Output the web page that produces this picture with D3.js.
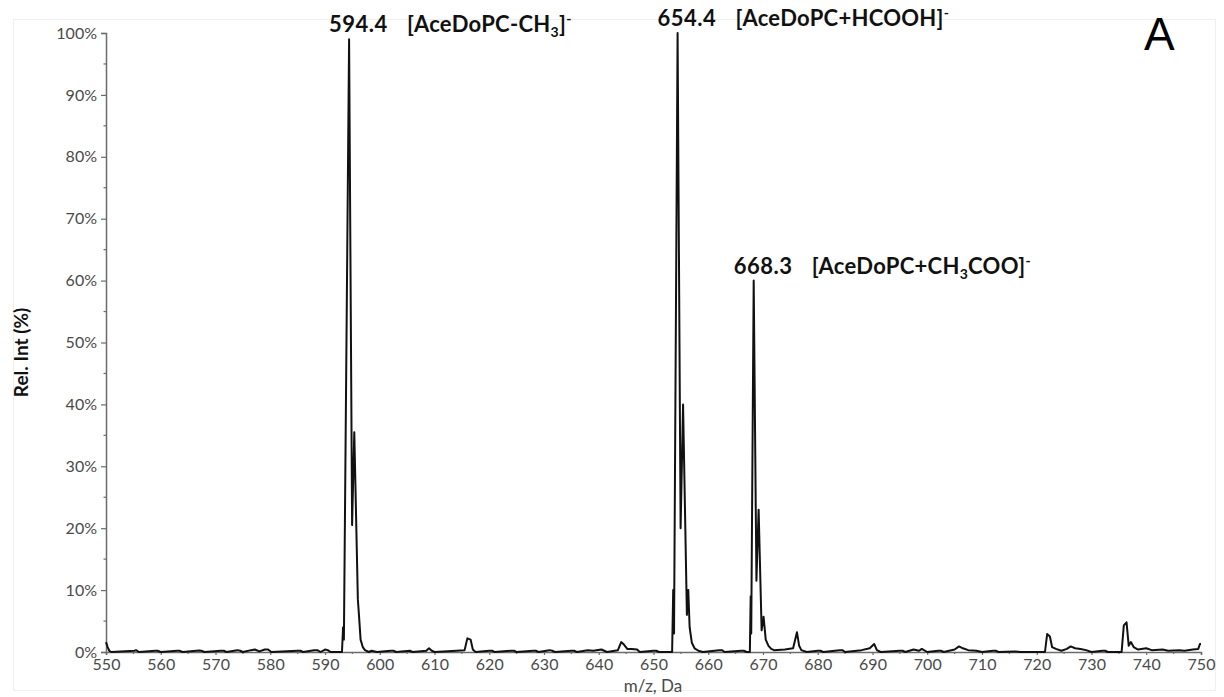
<!DOCTYPE html>
<html>
<head>
<meta charset="utf-8">
<script src="https://cdn.jsdelivr.net/npm/d3@7"></script>
<style>
    body { margin: 0; background: #fff; }
    svg { display: block; }
</style>
</head>
<body>
<svg id="chart"></svg>
<script>
const width = 1224;
const height = 697;
const margin = { top: 33, right: 23, bottom: 45, left: 106 };

// spectrum (m/z, relative intensity %)
const mzValues = [
    550.0, 550.3, 550.6, 551.0, 555.2, 555.5, 556.0, 559.0, 559.4, 560.0, 563.0, 563.4, 564.0,
    567.0, 567.4, 568.0, 571.0, 571.5, 572.0, 574.0, 574.5, 575.0, 576.5, 577.2, 578.0, 579.0,
    579.6, 580.2, 585.0, 585.5, 586.0, 588.0, 588.6, 589.2, 590.0, 590.5, 591.0, 593.1, 593.3,
    593.45, 594.4, 594.95, 595.35, 596.0, 596.2, 596.5, 596.9, 597.3, 598.0, 598.5, 599.5,
    602.0, 602.5, 603.0, 605.5, 606.0, 608.5, 609.0, 609.5, 610.0, 614.0, 615.5, 616.0, 616.6,
    617.0, 617.5, 620.0, 620.5, 621.0, 624.0, 624.5, 625.0, 628.0, 628.5, 629.0, 631.0, 631.5,
    632.0, 635.0, 635.5, 636.0, 638.0, 639.0, 640.5, 641.5, 643.5, 644.1, 644.6, 645.2, 646.0,
    647.0, 647.5, 650.0, 650.5, 651.0, 653.4, 653.6, 653.75, 654.4, 654.95, 655.4, 656.1,
    656.35, 656.6, 657.0, 657.5, 658.2, 659.0, 662.0, 662.5, 663.0, 666.0, 666.5, 667.0, 667.6,
    667.75, 667.85, 668.3, 668.8, 669.2, 669.75, 670.1, 670.5, 671.0, 671.5, 672.0, 674.0,
    675.5, 676.2, 676.6, 677.0, 678.0, 680.0, 680.5, 681.0, 684.0, 684.5, 685.0, 688.0, 689.5,
    690.3, 690.8, 691.5, 695.0, 695.5, 696.0, 697.5, 698.5, 699.0, 700.0, 702.0, 702.5, 703.0,
    705.0, 705.8, 706.5, 707.5, 709.0, 710.0, 712.0, 712.5, 713.0, 716.0, 717.0, 721.5, 721.9,
    722.4, 722.8, 723.5, 724.5, 725.5, 726.2, 727.0, 728.0, 729.0, 730.0, 732.0, 732.5, 733.0,
    735.5, 735.9, 736.4, 736.8, 737.2, 737.7, 738.5, 740.0, 741.0, 743.0, 744.0, 746.0, 747.0,
    748.5, 749.5, 749.8, 750.0
];
const relIntValues = [
    1.6, 0.8, 0.2, 0, 0.2, 0.3, 0, 0.2, 0.2, 0, 0.2, 0.2, 0,
    0.25, 0.2, 0, 0.2, 0.2, 0, 0.3, 0.2, 0, 0.3, 0.4, 0.1, 0.4,
    0.4, 0, 0.2, 0.2, 0, 0.3, 0.3, 0, 0.4, 0.3, 0, 0, 4,
    2, 99, 20.5, 35.5, 8.5, 6, 2, 0.8, 0.3, 0, 0.2, 0,
    0.2, 0.2, 0, 0.2, 0, 0.2, 0.6, 0.2, 0, 0.2, 0.3, 2.2, 2.0,
    0.4, 0, 0.2, 0.2, 0, 0.2, 0.2, 0, 0.2, 0.2, 0, 0.3, 0.2,
    0, 0.2, 0.2, 0, 0.3, 0.2, 0.4, 0, 0.3, 1.6, 1.2, 0.5, 0.5,
    0.4, 0, 0.2, 0.2, 0, 0, 10, 3, 100, 20, 40, 6,
    10, 4, 1.5, 0.6, 0.2, 0, 0.3, 0.3, 0, 0.2, 0.2, 0, 0,
    9, 3, 60, 11.5, 23, 3.5, 5.7, 2, 1, 0.5, 0.3, 0.4,
    0.6, 3.2, 1, 0.3, 0, 0.2, 0.2, 0, 0.3, 0.3, 0, 0.3, 0.6,
    1.3, 0.3, 0, 0.2, 0.2, 0, 0.4, 0.2, 0.5, 0, 0.2, 0.2, 0,
    0.4, 0.9, 0.6, 0.3, 0.2, 0, 0.2, 0.2, 0, 0.1, 0, 0, 2.9,
    2.5, 0.8, 0.5, 0.2, 0.5, 0.9, 0.6, 0.5, 0.3, 0, 0.2, 0.2, 0,
    0, 4.3, 4.8, 1.0, 1.6, 0.8, 0.4, 0.6, 0.3, 0.4, 0.2, 0.3, 0.2,
    0.4, 0.5, 1.3, 1.3
];

const xTicks = [550, 560, 570, 580, 590, 600, 610, 620, 630, 640, 650, 660, 670, 680, 690, 700, 710, 720, 730, 740, 750];
const yTicks = [0, 10, 20, 30, 40, 50, 60, 70, 80, 90, 100];

// peak annotations
const peakMz = [594.4, 654.4, 668.3];
const peakText = ["594.4", "654.4", "668.3"];
const ionText = [
    [["[AceDoPC-CH", ""], ["3", "sub"], ["]", ""], ["-", "sup"]],
    [["[AceDoPC+HCOOH]", ""], ["-", "sup"]],
    [["[AceDoPC+CH", ""], ["3", "sub"], ["COO]", ""], ["-", "sup"]],
];

const svg = d3.select("#chart").attr("width", width).attr("height", height);

// faint frame of the original figure
svg.append("rect")
    .attr("x", 13.5).attr("y", 19.5)
    .attr("width", 1202).attr("height", 671)
    .attr("fill", "none")
    .attr("stroke", "#efefef");

const x = d3.scaleLinear().domain([550, 750]).range([margin.left, width - margin.right]);
const y = d3.scaleLinear().domain([0, 100]).range([height - margin.bottom, margin.top]);

const tickFont = "Lato, 'Noto Sans', sans-serif";
const axisColor = "#6b6b6b";
const tickColor = "#4a4a4a";

// y axis
const yAxis = svg.append("g")
    .attr("transform", `translate(${margin.left},0)`)
    .call(d3.axisLeft(y).tickValues(yTicks).tickFormat((d) => d + "%").tickSize(5).tickPadding(4));
yAxis.selectAll(".domain").attr("stroke", axisColor).attr("stroke-width", 1.5);
yAxis.selectAll(".tick line").attr("stroke", axisColor).attr("stroke-width", 1.2);
yAxis.selectAll("text")
    .attr("font-family", tickFont).attr("font-size", 16).attr("fill", tickColor);

svg.append("g")
    .selectAll("line")
    .data(d3.range(5, 100, 10))
    .join("line")
    .attr("x1", margin.left - 2.5).attr("x2", margin.left)
    .attr("y1", (d) => y(d)).attr("y2", (d) => y(d))
    .attr("stroke", axisColor).attr("stroke-width", 1.2);

// x axis
const xAxis = svg.append("g")
    .attr("transform", `translate(0,${y(0)})`)
    .call(d3.axisBottom(x).tickValues(xTicks).tickSize(3).tickPadding(4));
xAxis.selectAll(".domain").attr("stroke", axisColor).attr("stroke-width", 1.5);
xAxis.selectAll(".tick line").attr("stroke", axisColor).attr("stroke-width", 1.2);
xAxis.selectAll("text")
    .attr("font-family", tickFont).attr("font-size", 16).attr("fill", tickColor);

svg.append("g")
    .selectAll("line")
    .data(d3.range(555, 750, 10))
    .join("line")
    .attr("x1", (d) => x(d)).attr("x2", (d) => x(d))
    .attr("y1", y(0)).attr("y2", y(0) + 2)
    .attr("stroke", axisColor).attr("stroke-width", 1.2);

// axis titles
svg.append("text")
    .attr("x", 653)
    .attr("y", 692)
    .attr("text-anchor", "middle")
    .attr("font-family", tickFont).attr("font-size", 17).attr("fill", tickColor)
    .text("m/z, Da");

svg.append("text")
    .attr("transform", `translate(28,${(y(0) + y(100)) / 2 + 10}) rotate(-90)`)
    .attr("text-anchor", "middle")
    .attr("font-family", "Lato, sans-serif").attr("font-weight", "bold").attr("font-size", 19)
    .attr("fill", "#111")
    .text("Rel. Int (%)");

// spectrum trace
const spectrum = mzValues.map((m, i) => ({ mz: m, val: relIntValues[i] }));
const line = d3.line().x((d) => x(d.mz)).y((d) => y(d.val));

svg.append("path")
    .datum(spectrum)
    .attr("fill", "none")
    .attr("stroke", "#111")
    .attr("stroke-width", 2)
    .attr("stroke-linejoin", "round")
    .attr("d", line);

// peak labels
const labelFont = "Lato, 'Open Sans', sans-serif";
const shift = { "": 0, sub: 5, sup: -8 };
peakMz.forEach((m, i) => {
    const top = relIntValues[mzValues.indexOf(m)];
    const baseX = x(m) - 20;
    const baseY = y(top) - 7;

    svg.append("text")
        .attr("x", baseX).attr("y", baseY)
        .attr("font-family", labelFont).attr("font-weight", "bold").attr("font-size", 22)
        .attr("letter-spacing", 0.5)
        .attr("fill", "#111")
        .text(peakText[i]);

    const t = svg.append("text")
        .attr("x", baseX + 78).attr("y", baseY)
        .attr("font-family", labelFont).attr("font-weight", "bold").attr("font-size", 22)
        .attr("letter-spacing", 0.3)
        .attr("fill", "#111");
    let offset = 0;
    ionText[i].forEach(([s, kind]) => {
        const span = t.append("tspan").text(s).attr("dy", shift[kind] - offset);
        if (kind !== "") span.attr("font-size", 14);
        offset = shift[kind];
    });
});

// panel letter
svg.append("text")
    .attr("x", 1144).attr("y", 50)
    .attr("font-family", "'Liberation Sans', Arial, sans-serif").attr("font-size", 46)
    .attr("fill", "#000")
    .text("A");
</script>
</body>
</html>
